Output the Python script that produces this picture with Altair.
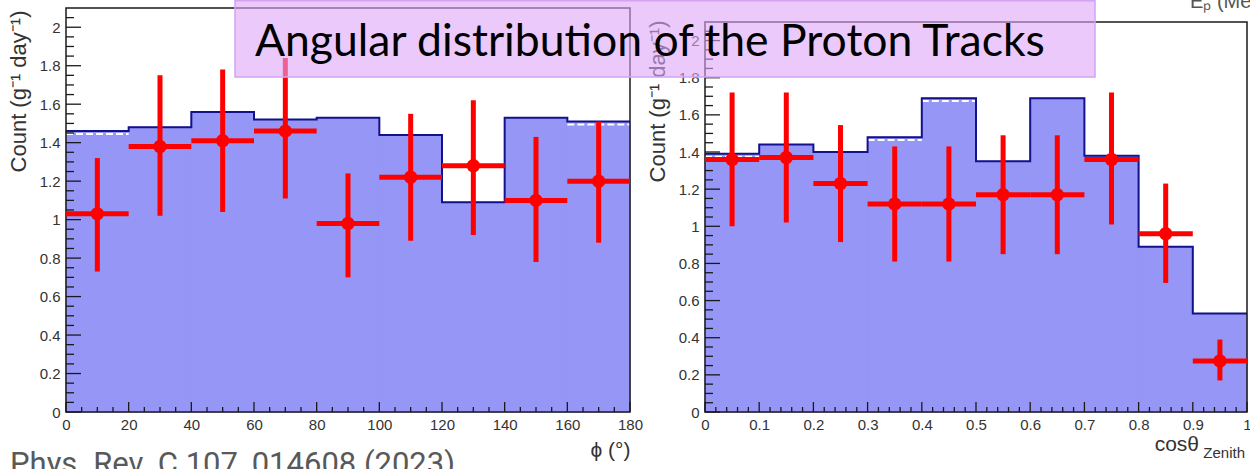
import altair as alt
import pandas as pd

# ---------------- data ----------------
# Left panel: azimuth phi (degrees)
phi_lo = [0, 20, 40, 60, 80, 100, 120, 140, 160]
phi_hi = [20, 40, 60, 80, 100, 120, 140, 160, 180]
phi_mc = [1.46, 1.48, 1.56, 1.52, 1.53, 1.44, 1.09, 1.53, 1.51]
phi_mc_band = [1.445, None, None, None, None, None, None, None, 1.495]
phi_center = [10, 30, 50, 70, 90, 110, 130, 150, 170]
phi_data = [1.03, 1.38, 1.41, 1.46, 0.98, 1.22, 1.28, 1.10, 1.20]
phi_err_lo = [0.73, 1.02, 1.04, 1.11, 0.70, 0.89, 0.92, 0.78, 0.88]
phi_err_hi = [1.32, 1.75, 1.78, 1.84, 1.24, 1.55, 1.62, 1.43, 1.51]

# Right panel: cos(theta_zenith)
cos_lo = [0.0, 0.1, 0.2, 0.3, 0.4, 0.5, 0.6, 0.7, 0.8, 0.9]
cos_hi = [0.1, 0.2, 0.3, 0.4, 0.5, 0.6, 0.7, 0.8, 0.9, 1.0]
cos_mc = [1.39, 1.44, 1.40, 1.48, 1.69, 1.35, 1.69, 1.38, 0.89, 0.53]
cos_mc_band = [1.375, None, None, 1.465, 1.675, None, None, None, None, None]
cos_center = [0.05, 0.15, 0.25, 0.35, 0.45, 0.55, 0.65, 0.75, 0.85, 0.95]
cos_data = [1.36, 1.37, 1.23, 1.12, 1.12, 1.17, 1.17, 1.36, 0.96, 0.275]
cos_err_lo = [1.00, 1.02, 0.915, 0.81, 0.81, 0.85, 0.85, 1.01, 0.695, 0.17]
cos_err_hi = [1.72, 1.72, 1.545, 1.43, 1.43, 1.49, 1.49, 1.72, 1.23, 0.39]

# tick labels
phi_ticks = [0, 20, 40, 60, 80, 100, 120, 140, 160, 180]
cos_ticks = [0, 0.1, 0.2, 0.3, 0.4, 0.5, 0.6, 0.7, 0.8, 0.9, 1.0]
count_ticks = [0, 0.2, 0.4, 0.6, 0.8, 1.0, 1.2, 1.4, 1.6, 1.8, 2.0]

title_text = "Angular distribution of the Proton Tracks"
ref_text = "Phys. Rev. C 107, 014608 (2023)"
y_title = "Count (g\u207b\u00b9 day\u207b\u00b9)"

# ---------------- style ----------------
FILL = "#9696f6"
NAVY = "#12128c"
RED = "#ff0000"
FRAME = "#1a1a1a"
LABEL = "#333333"
FONT = "Liberation Sans"
Y_TOP = 2.1


def minor_list(lo, hi, step, majors):
    n = int(round((hi - lo) / step))
    out = []
    for k in range(n + 1):
        v = round(lo + k * step, 4)
        if all(abs(v - m) > 1e-6 for m in majors):
            out.append(v)
    return out


def one():
    return alt.Data(values=[{}])


def anchor(x, y):
    # tiny off-screen rule used only to pin the page origin / width
    return alt.Chart(one()).mark_rule(color="white", strokeWidth=1).encode(
        x=alt.value(x), x2=alt.value(x), y=alt.value(y), y2=alt.value(y + 0.5))


def panel(lo, hi, mc, band, ctr, val, elo, ehi, xdom, ydom, W, H,
          x_major, x_minor, x_fmt, y_minor_step, x_title_kw, y_title_y, extra):
    xs = alt.Scale(domain=xdom, nice=False, zero=False)
    ys = alt.Scale(domain=ydom, nice=False, zero=False)
    xax = alt.Axis(values=x_major, format=x_fmt, ticks=False, domain=False, grid=False,
                   labelFont=FONT, labelFontSize=15, labelColor=LABEL, labelPadding=5,
                   labelFlush=False, labelOverlap=False, **x_title_kw)
    yax = alt.Axis(values=count_ticks, format="~g", ticks=False, domain=False, grid=False,
                   labelFont=FONT, labelFontSize=15, labelColor=LABEL, labelPadding=6,
                   labelOverlap=False, title=y_title, titleFont=FONT, titleFontSize=22,
                   titleFontWeight="normal", titleColor=LABEL, titleAngle=270,
                   titleAlign="right", titleBaseline="alphabetic", titleX=-41,
                   titleY=y_title_y, zindex=0)

    def X(f):
        return alt.X(f"{f}:Q", scale=xs, axis=xax)

    def Y(f):
        return alt.Y(f"{f}:Q", scale=ys, axis=yax)

    hist = pd.DataFrame({"lo": lo, "hi": hi, "mc": mc})
    bands = pd.DataFrame({"lo": lo, "hi": hi, "b": band}).dropna()
    step = pd.DataFrame({"e": lo + [hi[-1]], "v": mc + [mc[-1]]})
    pts = pd.DataFrame({"c": ctr, "lo": lo, "hi": hi, "v": val, "el": elo, "eh": ehi})
    frame = pd.DataFrame({"x0": [xdom[0]], "x1": [xdom[1]], "y0": [0], "y1": [Y_TOP]})
    y_minor = minor_list(0, 2.05, y_minor_step, count_ticks)

    layers = [
        alt.Chart(hist).mark_rect(fill=FILL, stroke=FILL, strokeWidth=1).encode(
            x=X("lo"), x2=alt.X2("hi"), y=Y("mc"), y2=alt.datum(0)),
        alt.Chart(bands).mark_rule(color="white", strokeWidth=2, strokeDash=[7, 3]).encode(
            x=X("lo"), x2=alt.X2("hi"), y=Y("b")),
        alt.Chart(step).mark_line(interpolate="step-after", color=NAVY, strokeWidth=2).encode(
            x=X("e"), y=Y("v")),
        alt.Chart(pd.DataFrame({"t": count_ticks})).mark_rule(color=FRAME, strokeWidth=1.3).encode(
            y=Y("t"), x=alt.value(0), x2=alt.value(15)),
        alt.Chart(pd.DataFrame({"t": y_minor})).mark_rule(color=FRAME, strokeWidth=1.3).encode(
            y=Y("t"), x=alt.value(0), x2=alt.value(8)),
        alt.Chart(pd.DataFrame({"t": x_major})).mark_rule(color=FRAME, strokeWidth=1.3).encode(
            x=X("t"), y=alt.value(H), y2=alt.value(H - 10)),
        alt.Chart(pd.DataFrame({"t": x_minor})).mark_rule(color=FRAME, strokeWidth=1.3).encode(
            x=X("t"), y=alt.value(H), y2=alt.value(H - 5)),
        alt.Chart(frame).mark_rect(fillOpacity=0, stroke=FRAME, strokeWidth=1.5).encode(
            x=X("x0"), x2=alt.X2("x1"), y=Y("y0"), y2=alt.Y2("y1")),
        alt.Chart(pts).mark_rule(color=RED, strokeWidth=5).encode(
            x=X("c"), y=Y("el"), y2=alt.Y2("eh")),
        alt.Chart(pts).mark_rule(color=RED, strokeWidth=5).encode(
            x=X("lo"), x2=alt.X2("hi"), y=Y("v")),
        alt.Chart(pts).mark_point(filled=True, shape="circle", size=180, color=RED, opacity=1).encode(
            x=X("c"), y=Y("v")),
    ]
    return alt.layer(*(layers + extra)).properties(width=W, height=H)


# ---------------- left panel (plot area at x 66..630, y 8..412) ----------------
LW, LH = 564, 404
left_extra = [
    anchor(-89.5, -19.5),
    alt.Chart(one()).mark_text(font="Roboto", fontSize=31, color="#595959", align="left",
                               baseline="alphabetic").encode(
        x=alt.value(-56), y=alt.value(466), text=alt.value(ref_text)),
]
left = panel(phi_lo, phi_hi, phi_mc, phi_mc_band, phi_center, phi_data, phi_err_lo, phi_err_hi,
             [0, 180], [0, Y_TOP], LW, LH, phi_ticks, minor_list(0, 180, 5, phi_ticks), "d", 0.05,
             dict(title="\u03d5 (\u00b0)", titleFont=FONT, titleFontSize=21, titleFontWeight="normal",
                  titleColor=LABEL, titleAlign="right", titleBaseline="alphabetic",
                  titleX=LW, titleY=44, titleAngle=0),
             2, left_extra)

# ---------------- right panel (plot area at x 705..1247) ----------------
RW, RH = 542, 404
R_YMAX = Y_TOP * 404 / 390
right_extra = [
    anchor(594.5, 0),
    alt.Chart(one()).mark_text(font=FONT, fontSize=21, color=LABEL, align="right",
                               baseline="alphabetic").encode(
        x=alt.value(494), y=alt.value(443), text=alt.value("cos\u03b8")),
    alt.Chart(one()).mark_text(font=FONT, fontSize=15, color=LABEL, align="right",
                               baseline="alphabetic").encode(
        x=alt.value(540), y=alt.value(450), text=alt.value("Zenith")),
    alt.Chart(one()).mark_text(font=FONT, fontSize=20, color="#555555", align="left",
                               baseline="alphabetic").encode(
        x=alt.value(485), y=alt.value(0), text=alt.value("E\u209a (MeV)")),
    alt.Chart(one()).mark_rect(fill="#DEA5F8", fillOpacity=0.6, stroke="#D5A2F2",
                               strokeWidth=1.5).encode(
        x=alt.value(-470), x2=alt.value(390), y=alt.value(-7.2), y2=alt.value(69)),
    alt.Chart(one()).mark_text(font="Lato", fontSize=44.5, color="black", align="left",
                               baseline="alphabetic").encode(
        x=alt.value(-450), y=alt.value(48), text=alt.value(title_text)),
]
right = panel(cos_lo, cos_hi, cos_mc, cos_mc_band, cos_center, cos_data, cos_err_lo, cos_err_hi,
              [0, 1], [0, R_YMAX], RW, RH, cos_ticks, minor_list(0, 1, 0.02, cos_ticks), "~g", 0.05,
              dict(title=""), 12, right_extra)

chart = alt.hconcat(left, right, spacing=75, bounds="flush",
                    padding={"left": -24, "top": -12, "right": -50, "bottom": 0},
                    background="white").configure_view(stroke=None)

chart.save("out.html", embed_options={"renderer": "svg", "actions": False})
